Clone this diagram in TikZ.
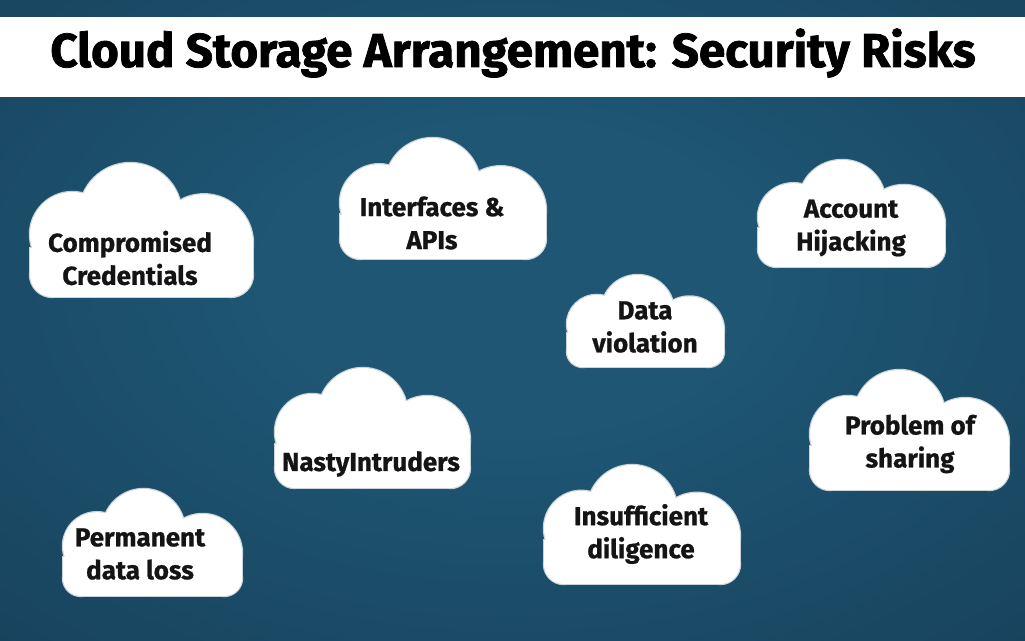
\documentclass[tikz,border=0pt]{standalone}
\usepackage{fontspec}
\setmainfont{Fira Sans}
\newfontfamily\heavyfont{Fira Sans}[BoldFeatures={FakeBold=1.6}]
\newfontfamily\semiheavyfont{Fira Sans}[BoldFeatures={FakeBold=0.8}]
\definecolor{bgA}{HTML}{1E5674}
\definecolor{bgB}{HTML}{163D56}
\definecolor{bgC}{HTML}{0B2034}
\definecolor{cloudedge}{HTML}{C9D3D8}
\definecolor{inktext}{HTML}{141414}
\pgfdeclareradialshading{bgshade}{\pgfpoint{0bp}{4bp}}{color(0bp)=(bgA); color(12bp)=(bgA); color(45bp)=(bgB); color(72bp)=(bgC)}
\newcommand\cloudparts[1]{%
  \path[#1] (0.19,0.28) circle (0.19);
  \path[#1] (0.45,0.37) circle (0.23);
  \path[#1] (0.78,0.24) circle (0.22);
  \path[#1] (0.1,0.1) circle (0.1);
  \path[#1] (0.9,0.1) circle (0.1);
  \path[#1] (0.1,0) rectangle (0.9,0.32);
  \path[#1] (0,0.1) rectangle (1,0.22);}
\newcommand\drawcloud[4]{% x0, ybottom (image), W, H
  \begin{scope}[shift={(#1,640-#2)}, xscale=#3, yscale=#4/0.6]
    \cloudparts{fill=cloudedge, draw=cloudedge, line width=2.4pt}
    \cloudparts{fill=white}
  \end{scope}}
\tikzset{
  cloudtext/.style={align=center, inner sep=0pt, text=inktext,
    font=\semiheavyfont\fontsize{26}{33}\selectfont\bfseries},
  titletext/.style={inner sep=0pt, text=black, anchor=base,
    font=\heavyfont\fontsize{47.5}{47.5}\selectfont\bfseries}
}
\begin{document}
\begin{tikzpicture}[x=1pt,y=1pt]
\useasboundingbox (0,0) rectangle (1025,640);
\shade[shading=bgshade] (0,0) rectangle (1025,640);
% title bar
\fill[white] (0,543) rectangle (1025,623);
\node[titletext] (title) at (513,573) {Cloud Storage Arrangement: Security Risks};
% clouds
\drawcloud{30}{297}{223}{134}
\node[cloudtext] (cred) at (130,640-258) {Compromised\\Credentials};
\drawcloud{340}{259}{206}{121}
\node[cloudtext] (api) at (432,640-223) {Interfaces \&\\APIs};
\drawcloud{758}{267}{187}{107}
\node[cloudtext] (acct) at (851,640-228) {Account\\Hijacking};
\drawcloud{567}{367}{157}{92}
\node[cloudtext] (viol) at (645,640-327) {Data\\violation};
\drawcloud{275}{488}{195}{120}
\node[cloudtext] (nasty) at (371,640-464) {NastyIntruders};
\drawcloud{810}{490}{199}{120}
\node[cloudtext] (share) at (910,640-444) {Problem of\\sharing};
\drawcloud{544}{584}{196}{119}
\node[cloudtext] (dilig) at (641,640-534) {Insufficient\\diligence};
\drawcloud{63}{596}{179}{107}
\node[cloudtext] (loss) at (140,640-554) {Permanent\\data loss};
\end{tikzpicture}
\end{document}
